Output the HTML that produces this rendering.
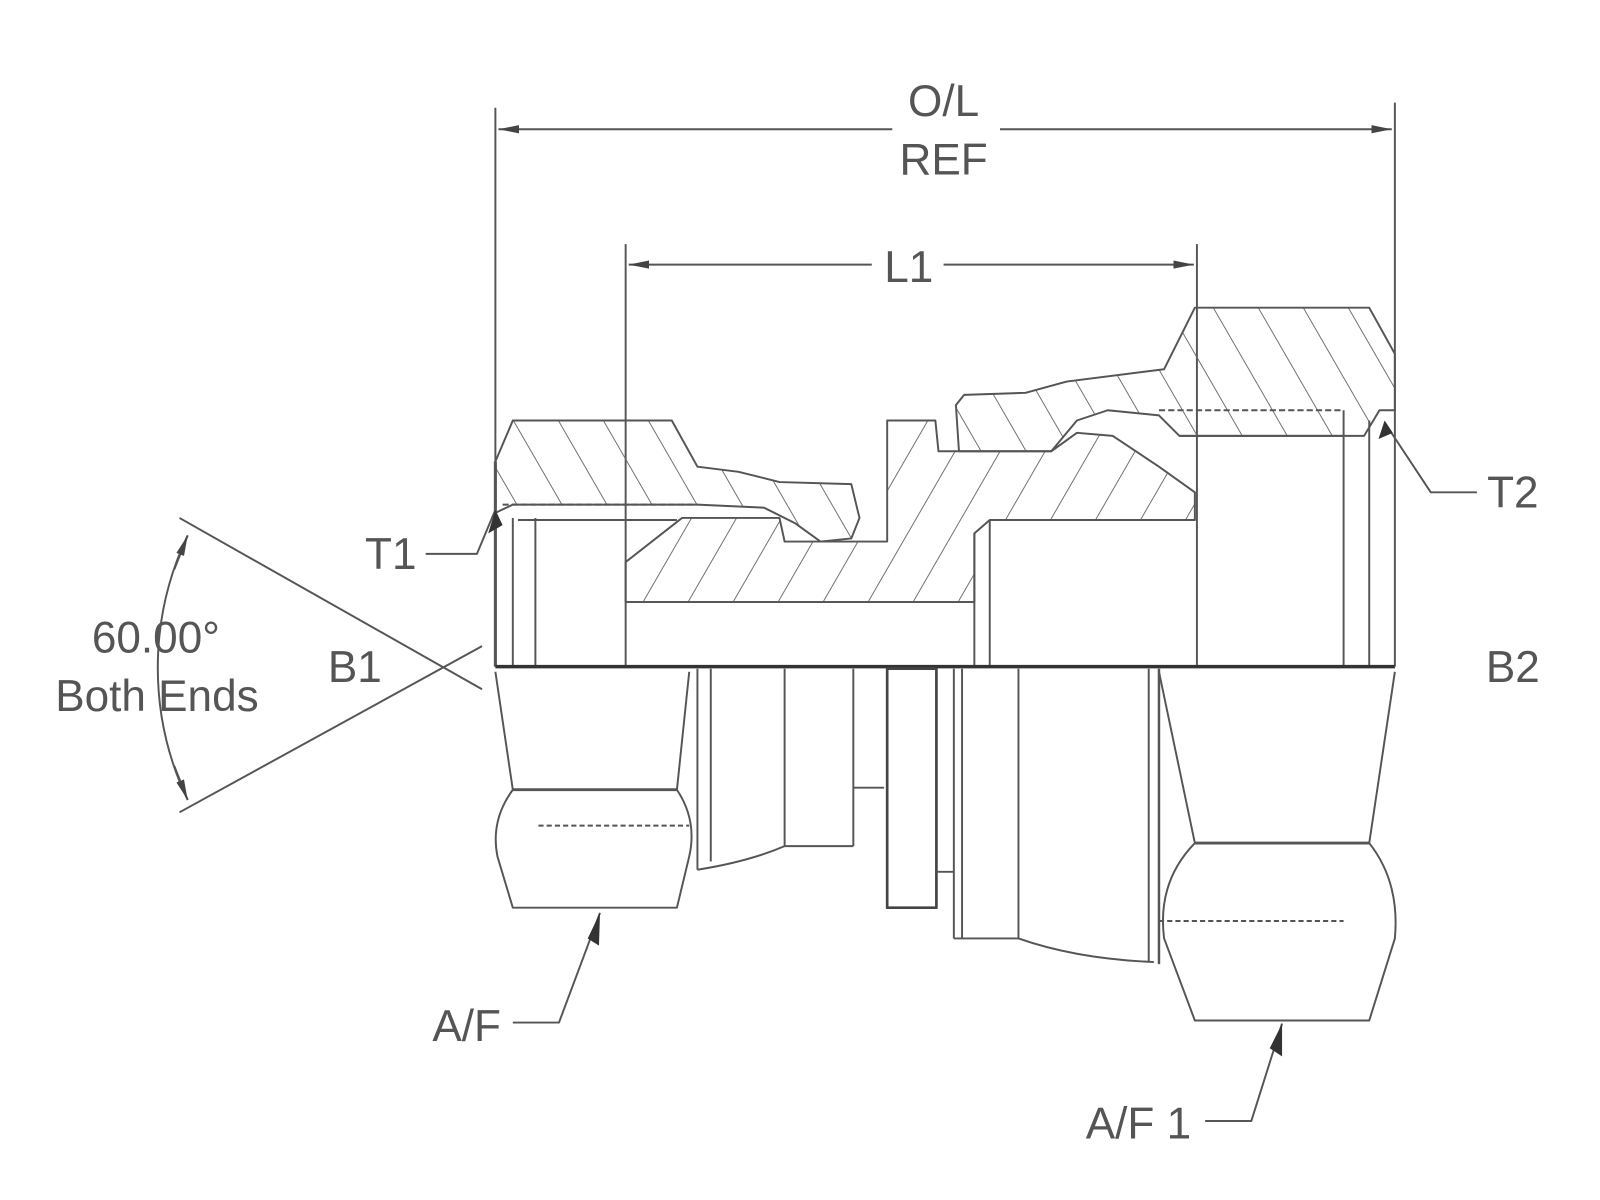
<!DOCTYPE html>
<html><head><meta charset="utf-8"><style>
html,body{margin:0;padding:0;background:#fff;}
svg{display:block;}
text{font-family:"Liberation Sans",sans-serif;fill:#555;font-size:43px;}
</style></head><body>
<svg width="1600" height="1200" viewBox="0 0 1560 1170" preserveAspectRatio="none" xmlns="http://www.w3.org/2000/svg">
<defs>
<pattern id="hb" patternUnits="userSpaceOnUse" width="38" height="38" patternTransform="rotate(30)">
<line x1="0" y1="0" x2="0" y2="38" stroke="#666" stroke-width="1.8"/></pattern>
<pattern id="hf" patternUnits="userSpaceOnUse" width="38" height="38" patternTransform="rotate(-30)">
<line x1="0" y1="0" x2="0" y2="38" stroke="#666" stroke-width="1.8"/></pattern>
<marker id="ar" viewBox="0 0 20 10" refX="20" refY="5" markerWidth="20" markerHeight="10" markerUnits="userSpaceOnUse" orient="auto"><path d="M0,1 L20,5 L0,9 Z" fill="#444"/></marker>
</defs>
<g fill="none" stroke="#555" stroke-width="1.9" stroke-linejoin="round">
<line x1="483" y1="105" x2="483" y2="650"/>
<line x1="1360" y1="100" x2="1360" y2="650"/>
<line x1="870" y1="126" x2="486" y2="126" marker-end="url(#ar)"/>
<line x1="975" y1="126" x2="1357" y2="126" marker-end="url(#ar)"/>
<line x1="610" y1="238" x2="610" y2="650"/>
<line x1="1167" y1="238" x2="1167" y2="650"/>
<line x1="850" y1="258" x2="613" y2="258" marker-end="url(#ar)"/>
<line x1="920" y1="258" x2="1164" y2="258" marker-end="url(#ar)"/>

<path d="M483,450 L500,410 L655,410 L680,455 L720,460 L760,470 L830,472 L838,505 L830,525 L800,528 L775,510 L745,495 L680,492 L500,492 L483,500 Z" fill="url(#hf)"/>
<path d="M610,548 L665,505 L760,505 L765,528 L865,528 L865,410 L912,410 L915,440 L1025,440 L1050,422 L1085,425 L1130,455 L1165,480 L1165,507 L965,507 L950,520 L950,587 L610,587 Z" fill="url(#hb)"/>
<path d="M1165,300 L1335,300 L1360,345 L1360,400 L1345,400 L1330,425 L1150,425 L1130,405 L1080,400 L1050,410 L1025,440 L935,440 L932,395 L940,385 L1000,383 L1040,372 L1135,360 Z" fill="url(#hf)"/>
<line x1="1130" y1="400" x2="1310" y2="400" stroke-dasharray="6,3"/>
<line x1="490" y1="492" x2="680" y2="492" stroke-dasharray="6,3"/>
<line x1="505" y1="507" x2="660" y2="507"/>
<line x1="965" y1="507" x2="1165" y2="507"/>
<line x1="1150" y1="425" x2="1310" y2="425"/>
<line x1="483" y1="450" x2="483" y2="650" stroke-width="3"/>
<line x1="500" y1="505" x2="500" y2="650"/>
<line x1="522" y1="505" x2="522" y2="650"/>
<line x1="950" y1="520" x2="950" y2="650"/>
<line x1="965" y1="507" x2="965" y2="650"/>
<line x1="1310" y1="400" x2="1310" y2="650"/>
<line x1="1335" y1="410" x2="1335" y2="650"/>
<line x1="610" y1="587" x2="950" y2="587"/>
<line x1="483" y1="650" x2="1360" y2="650" stroke-width="3.4" stroke="#333"/>

<path d="M483,655 L500,770 Q478,800 485,835 L500,885 L660,885 L672,835 Q680,800 660,770 L672,655"/>
<line x1="500" y1="770" x2="660" y2="770" stroke-width="2.8"/>
<line x1="525" y1="805" x2="672" y2="805" stroke-dasharray="5,3"/>
<line x1="680" y1="652" x2="680" y2="848"/>
<line x1="693" y1="652" x2="693" y2="840"/>
<path d="M680,848 Q730,840 765,825"/>
<line x1="765" y1="652" x2="765" y2="825"/>
<line x1="765" y1="825" x2="832" y2="825"/>
<line x1="832" y1="652" x2="832" y2="825"/>
<line x1="832" y1="768" x2="862" y2="768"/>
<rect x="865" y="652" width="48" height="233" stroke-width="2.6" stroke="#444"/>
<line x1="913" y1="850" x2="930" y2="850"/>
<line x1="930" y1="652" x2="930" y2="915"/>
<line x1="938" y1="652" x2="938" y2="915"/>
<line x1="930" y1="915" x2="993" y2="915"/>
<line x1="993" y1="652" x2="993" y2="915"/>
<path d="M993,915 Q1050,935 1125,938"/>
<line x1="1120" y1="652" x2="1120" y2="938"/>
<line x1="1130" y1="652" x2="1130" y2="940" stroke-width="2.4"/>
<path d="M1130,655 L1165,822 Q1128,860 1135,915 L1165,995 L1335,995 L1360,915 Q1365,860 1335,822 L1360,655"/>
<line x1="1165" y1="822" x2="1335" y2="822" stroke-width="2.8"/>
<line x1="1130" y1="898" x2="1310" y2="898" stroke-dasharray="5,3"/>

<line x1="175" y1="505" x2="470" y2="672"/>
<line x1="175" y1="792" x2="470" y2="630"/>
<path d="M183,522 A300,300 0 0 0 183,780"/>
<path d="M170,555 L183,522" marker-end="url(#ar)"/>
<path d="M170,747 L183,780" marker-end="url(#ar)"/>
<polyline points="415,540 465,540 483,497" />
<polyline points="1440,480 1395,480 1350,412"/>
<polyline points="500,997 545,997 585,890"/>
<polyline points="1175,1093 1220,1093 1250,998"/>
</g>
<path d="M476,520 L483,497 L490,512 Z" fill="#333"/>
<path d="M1344,428 L1350,410 L1358,422 Z" fill="#333"/>
<path d="M573,915 L585,890 L584,922 Z" fill="#333"/>
<path d="M1238,1022 L1250,998 L1250,1030 Z" fill="#333"/>
<text x="920" y="113" text-anchor="middle">O/L</text>
<text x="920" y="170" text-anchor="middle">REF</text>
<text x="886" y="275" text-anchor="middle">L1</text>
<text x="152" y="636" text-anchor="middle">60.00°</text>
<text x="153" y="693" text-anchor="middle">Both Ends</text>
<text x="346" y="665" text-anchor="middle">B1</text>
<text x="1475" y="665" text-anchor="middle">B2</text>
<text x="381" y="555" text-anchor="middle">T1</text>
<text x="1475" y="495" text-anchor="middle">T2</text>
<text x="455" y="1015" text-anchor="middle">A/F</text>
<text x="1110" y="1110" text-anchor="middle">A/F 1</text>
</svg>
</body></html>
